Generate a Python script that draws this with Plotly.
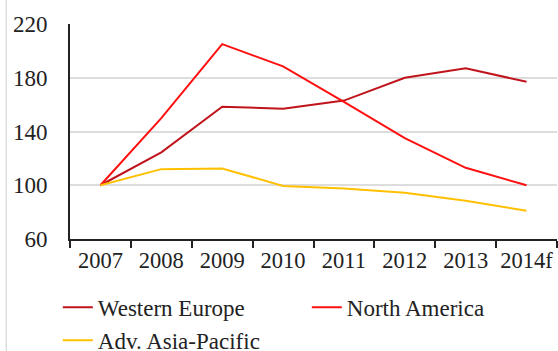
import plotly.graph_objects as go

years = ["2007", "2008", "2009", "2010", "2011", "2012", "2013", "2014f"]
western_europe = [100, 124.5, 158.5, 157, 163, 180, 187, 177]
north_america = [100, 150, 205, 188.5, 162, 135, 113, 100]
asia_pacific = [100, 112, 112.5, 99.5, 97.5, 94.5, 88.5, 81]

series = [
    ("Western Europe", western_europe, "#C0141C"),
    ("North America", north_america, "#FF1010"),
    ("Adv. Asia-Pacific", asia_pacific, "#FFC000"),
]

fig = go.Figure()
for name, vals, col in series:
    fig.add_trace(go.Scatter(x=years, y=vals, name=name, mode="lines",
                             line=dict(color=col, width=2)))

font = dict(family="Liberation Serif", size=23, color="#222222")
fig.update_layout(
    width=558, height=351,
    margin=dict(l=70, r=1, t=24, b=112, autoexpand=False),
    paper_bgcolor="white", plot_bgcolor="white",
    font=font,
    showlegend=True,
    legend=dict(orientation="h", x=-0.025, xanchor="left", y=-0.218, yanchor="top",
                entrywidth=204, entrywidthmode="pixels", itemwidth=30,
                tracegroupgap=0, font=font, traceorder="normal"),
    xaxis=dict(type="category", showline=True, linecolor="#222222", linewidth=2,
               ticks="outside", tickson="boundaries", ticklen=7, tickwidth=2,
               tickcolor="#222222", showgrid=False, range=[-0.5, 7.5],
               tickangle=0, tickfont=dict(family="Liberation Serif", size=22.5, color="#222222")),
    yaxis=dict(range=[60, 220], tickvals=[60, 100, 140, 180, 220], showline=True,
               linecolor="#222222", linewidth=2, showgrid=True, gridcolor="#DDDDDD",
               gridwidth=1.5, ticks="", ticklabelstandoff=16, zeroline=False),
    shapes=[dict(type="line", xref="paper", yref="paper", x0=-0.131, x1=-0.131,
                 y0=-2, y1=2, line=dict(color="#CCCCCC", width=1))],
)
fig.write_html("out.html")
